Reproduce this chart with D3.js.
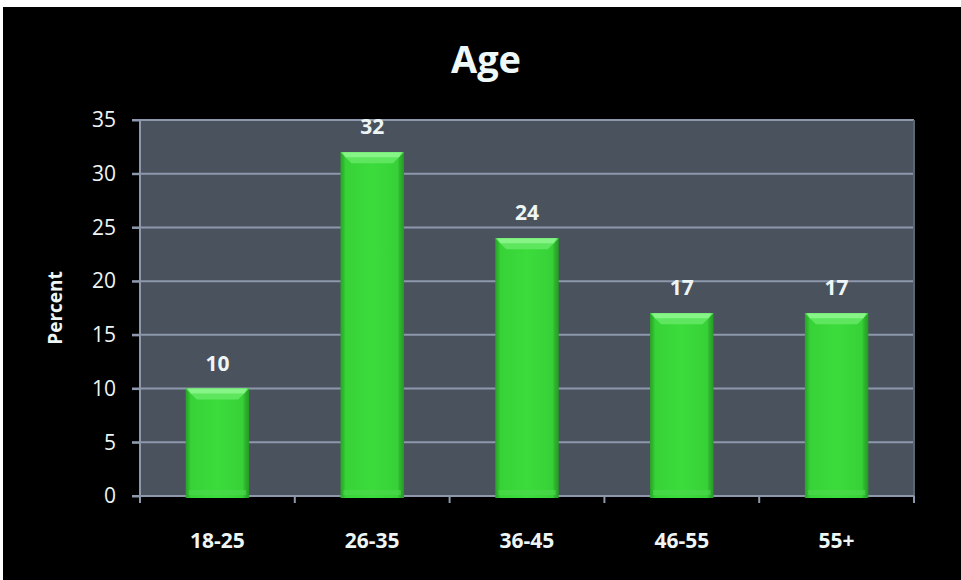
<!DOCTYPE html>
<html><head><meta charset="utf-8">
<script src="https://cdn.jsdelivr.net/npm/d3@7"></script>
<style>html,body{margin:0;padding:0;background:#fff;}svg{display:block;}</style>
</head><body>
<svg id="chart" width="961" height="580"></svg>
<script>
const title = "Age";
const yAxisTitle = "Percent";
const categories = ["18-25", "26-35", "36-45", "46-55", "55+"];
const values = [10, 32, 24, 17, 17];
const yTicks = [0, 5, 10, 15, 20, 25, 30, 35];

const svg = d3.select("#chart");
const W = 961, H = 580;
const m = {left: 140, right: 47, top: 120, bottom: 84};
const pw = W - m.left - m.right, ph = H - m.top - m.bottom;
const font = "'Open Sans', 'DejaVu Sans', sans-serif";

svg.append("rect").attr("x", 3).attr("y", 7).attr("width", W - 3).attr("height", H - 7).attr("fill", "#000");

const x = d3.scaleBand().domain(categories).range([0, pw]).paddingInner(0.59).paddingOuter(0.295);
const xb = d3.scaleBand().domain(categories).range([0, pw]);
const y = d3.scaleLinear().domain([0, 35]).range([ph, 0]);

const defs = svg.append("defs");
const g1 = defs.append("linearGradient").attr("id", "barGrad").attr("x1", 0).attr("x2", 1).attr("y1", 0).attr("y2", 0);
[[0, "#2aa12a"], [0.05, "#2ebd2e"], [0.08, "#37d237"], [0.5, "#3cdc3c"], [0.9, "#37d137"], [0.93, "#2fb82f"], [1, "#259a25"]]
  .forEach(([o, c]) => g1.append("stop").attr("offset", o).attr("stop-color", c));

const g = svg.append("g").attr("transform", `translate(${m.left},${m.top})`);
g.append("rect").attr("width", pw).attr("height", ph).attr("fill", "#4a525d");

const gridCol = "#8d98ad";
g.append("g").selectAll("line").data(yTicks.filter(t => t > 0)).join("line")
  .attr("x1", -8).attr("x2", pw).attr("y1", d => y(d)).attr("y2", d => y(d))
  .attr("stroke", gridCol).attr("stroke-width", 2);

g.append("line").attr("x1", pw).attr("x2", pw).attr("y1", 0).attr("y2", ph).attr("stroke", "#5d6573").attr("stroke-width", 2);

const yAxis = d3.axisLeft(y).tickValues(yTicks).tickSize(8).tickPadding(16);
const ya = g.append("g").call(yAxis);
ya.select(".domain").attr("stroke", gridCol).attr("stroke-width", 2).attr("d", `M0,${ph}V0`);
ya.selectAll(".tick line").attr("stroke", gridCol).attr("stroke-width", 2);
ya.selectAll(".tick text").attr("fill", "#eef5f5").attr("font-family", font).attr("font-size", 21);

g.append("line").attr("x1", -8).attr("x2", pw).attr("y1", ph).attr("y2", ph).attr("stroke", gridCol).attr("stroke-width", 2);
const bounds = categories.map(c => xb(c)).concat([pw]);
g.append("g").selectAll("line").data(bounds).join("line")
  .attr("x1", d => d).attr("x2", d => d).attr("y1", ph).attr("y2", ph + 7)
  .attr("stroke", gridCol).attr("stroke-width", 2);

const bars = g.append("g").selectAll("g").data(values).join("g");
bars.append("rect")
  .attr("x", (d, i) => x(categories[i])).attr("y", d => y(d))
  .attr("width", x.bandwidth()).attr("height", d => ph - y(d) + 2)
  .attr("fill", "url(#barGrad)");
bars.append("path")
  .attr("d", (d, i) => {
    const x0 = x(categories[i]), x1 = x0 + x.bandwidth(), t = y(d), b = 11;
    return `M${x0},${t}H${x1}L${x1 - b},${t + b}H${x0 + b}Z`;
  })
  .attr("fill", "#5fe65f");
bars.append("path")
  .attr("d", (d, i) => {
    const x0 = x(categories[i]), x1 = x0 + x.bandwidth(), t = y(d), b = 5;
    return `M${x0 + 2},${t}H${x1 - 2}L${x1 - b},${t + b}H${x0 + b}Z`;
  })
  .attr("fill", "#86f486");
bars.append("rect")
  .attr("x", (d, i) => x(categories[i]) + 3).attr("y", ph - 6)
  .attr("width", x.bandwidth() - 6).attr("height", 5)
  .attr("fill", "#4fd94f").attr("opacity", 0.6);

g.append("g").selectAll("text").data(values).join("text")
  .attr("x", (d, i) => x(categories[i]) + x.bandwidth() / 2)
  .attr("y", d => y(d) - 18)
  .attr("text-anchor", "middle").attr("fill", "#eef5f5")
  .attr("font-family", font).attr("font-weight", "bold").attr("font-size", 21)
  .text(d => d);

g.append("g").selectAll("text").data(categories).join("text")
  .attr("x", d => xb(d) + xb.bandwidth() / 2).attr("y", ph + 52)
  .attr("text-anchor", "middle").attr("fill", "#eef5f5")
  .attr("font-family", font).attr("font-weight", "bold").attr("font-size", 21)
  .text(d => d);

svg.append("text").attr("x", 486).attr("y", 73).attr("text-anchor", "middle")
  .attr("fill", "#eef8f8").attr("font-family", font).attr("font-weight", "bold").attr("font-size", 38)
  .text(title);

svg.append("text").attr("transform", `translate(62,${m.top + ph / 2}) rotate(-90)`)
  .attr("text-anchor", "middle").attr("fill", "#eef5f5")
  .attr("font-family", font).attr("font-weight", "bold").attr("font-size", 19)
  .text(yAxisTitle);
</script>
</body></html>
